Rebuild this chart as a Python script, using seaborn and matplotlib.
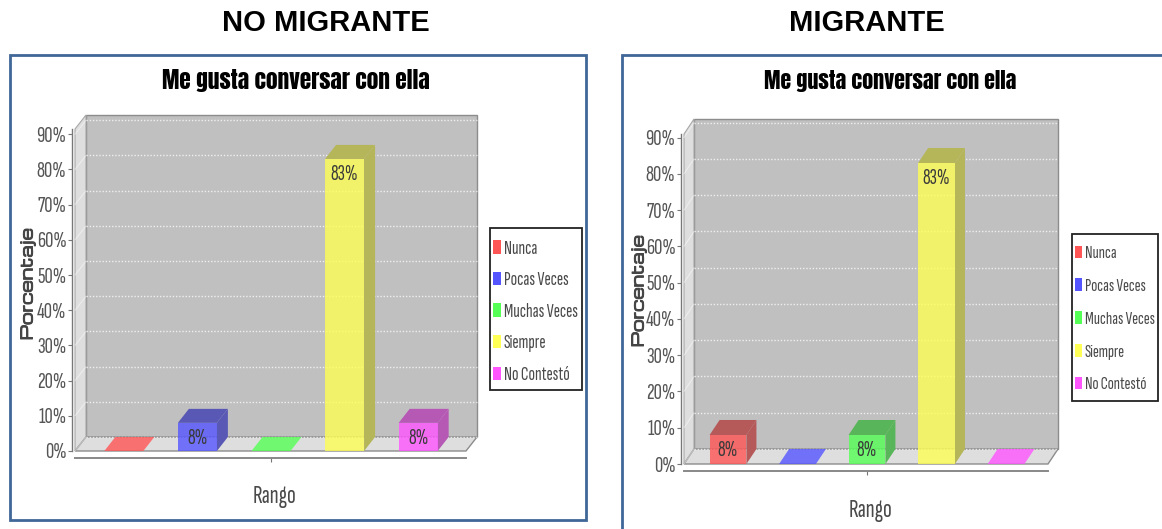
import matplotlib
matplotlib.use("Agg")
import matplotlib.pyplot as plt
import matplotlib.font_manager as fm
import matplotlib.patheffects as pe
from matplotlib.patches import Polygon, Rectangle, Patch
from matplotlib.transforms import IdentityTransform
from matplotlib.colors import to_rgb
import pandas as pd
import seaborn as sns

W, H = 1162, 529

categories = ["Nunca", "Pocas Veces", "Muchas Veces", "Siempre", "No Contestó"]
colors = ["#FF5555", "#5555FF", "#55FF55", "#FFFF55", "#FF55FF"]
no_migrante = [0, 8, 0, 83, 8]
migrante = [8, 0, 8, 83, 0]
yticks = [0, 10, 20, 30, 40, 50, 60, 70, 80, 90]

sns.set_theme(style="white")
names = {f.name for f in fm.fontManager.ttflist}
# the reference uses squeezed letters, fall back to smaller type if the fonts are missing
NARROW = "Sofia Sans Extra Condensed"
k = 1.0 if NARROW in names else 0.6
plt.rcParams["font.family"] = [NARROW, "Liberation Sans", "DejaVu Sans"]
TITLE_FONT = ["Anton", "Liberation Sans", "DejaVu Sans"]
WIDE_FONT = ["Michroma", "DejaVu Sans"]

fig = plt.figure(figsize=(W / 100, H / 100), dpi=100, facecolor="white")
px = IdentityTransform()


def shade(c):
    # darker, greyer tone for the top and the side of a bar
    return tuple(0.17 + 0.54 * v for v in to_rgb(c))


def chart(values, x0, x1, y0, ytop, xlim, ymax, dx, dy, title_x, title_size, rango_y, porc_x, porc_y, box, leg_size, rowgap):
    ax = fig.add_axes([x0 / W, (H - y0) / H, (x1 - x0) / W, (y0 - ytop) / H])
    ax.patch.set_visible(False)
    df = pd.DataFrame({"rango": categories, "pct": values})
    sns.barplot(data=df, x="rango", y="pct", hue="rango", palette=colors, order=categories,
                hue_order=categories, saturation=1, width=0.53, dodge=False, legend=False, ax=ax)
    ax.set_xlim(*xlim)
    ax.set_ylim(0, ymax)

    tr = ax.transData
    (l, b) = tr.transform((xlim[0], 0))
    (r, t) = tr.transform((xlim[1], ymax))

    # back wall, side wall, floor
    ax.add_patch(Polygon([(l + dx, b + dy), (r + dx, b + dy), (r + dx, t + dy), (l + dx, t + dy)],
                         fc="#C0C0C0", ec="#8C8C8C", lw=1, transform=px, clip_on=False, zorder=0.5))
    ax.add_patch(Polygon([(l, b), (l + dx, b + dy), (l + dx, t + dy), (l, t)],
                         fc="#DEDEDE", ec="#A8A8A8", lw=0.8, transform=px, clip_on=False, zorder=0.6))
    ax.add_patch(Polygon([(l, b), (r, b), (r + dx, b + dy), (l + dx, b + dy)],
                         fc="#DEDEDE", ec="#8C8C8C", lw=1, transform=px, clip_on=False, zorder=0.6))

    # dotted grid on the back wall and faint lines on the side wall
    for v in yticks:
        yy = tr.transform((0, v))[1]
        ax.plot([l + dx, r + dx], [yy + dy, yy + dy], color="white", lw=1, ls=(0, (1, 1.3)), alpha=0.75,
                transform=px, clip_on=False, zorder=0.8)
        ax.plot([l, l + dx], [yy, yy + dy], color="white", lw=0.8, alpha=0.45,
                transform=px, clip_on=False, zorder=0.8)

    # bars with fake depth
    front = [p for p in ax.patches if isinstance(p, Rectangle)]
    for bar in front:
        bar.set_alpha(0.8)
        bar.set_zorder(3)
        bar.set_edgecolor("none")
        col = bar.get_facecolor()[:3]
        x, w, h = bar.get_x(), bar.get_width(), bar.get_height()
        (xa, ya) = tr.transform((x, 0))
        (xb, yb) = tr.transform((x + w, h))
        top = [(xa, yb), (xb, yb), (xb + dx, yb + dy), (xa + dx, yb + dy)]
        if h > 0:
            side = [(xb, ya), (xb + dx, ya + dy), (xb + dx, yb + dy), (xb, yb)]
            ax.add_patch(Polygon(side, fc=shade(col), ec="none", transform=px, clip_on=False, zorder=2))
            ax.add_patch(Polygon(top, fc=shade(col), ec="none", transform=px, clip_on=False, zorder=2))
        else:
            ax.add_patch(Polygon(top, fc=col, ec="none", alpha=0.8, transform=px, clip_on=False, zorder=2))

    for cont in ax.containers:
        labs = [f"{int(b.get_height())}%" if b.get_height() > 0 else "" for b in cont]
        ax.bar_label(cont, labels=labs, padding=-18, fontsize=15.5 * k, color="#3A3A3A", zorder=5)

    # axes
    sns.despine(ax=ax, top=True, right=True)
    ax.spines["left"].set_position(("outward", 2.2))
    ax.spines["left"].set_color("#777777")
    ax.spines["left"].set_linewidth(1)
    ax.spines["left"].set_bounds(0, ymax)
    ax.spines["bottom"].set_position(("outward", 5))
    ax.spines["bottom"].set_color("#888888")
    ax.spines["bottom"].set_linewidth(1.4)
    ax.set_yticks(yticks)
    ax.set_yticklabels([f"{v}%" for v in yticks])
    ax.tick_params(axis="y", left=True, length=3, width=0.8, color="#777777", labelcolor="#555555",
                   labelsize=16.5 * k, pad=1)
    ax.set_xticks([2])
    ax.set_xticklabels([""])
    ax.tick_params(axis="x", bottom=True, length=3, width=0.8, color="#777777")
    ax.set_xlabel("")
    ax.set_ylabel("")
    ax.grid(False)

    # title and axis names, placed in pixels
    fig.text(title_x / W, (H - 81) / H, "Me gusta conversar con ella", ha="center", va="center",
             fontsize=title_size, color="black", family=TITLE_FONT)
    fig.text(tr.transform((2, 0))[0] / W + 0.003, (H - rango_y) / H, "Rango", ha="center", va="center",
             fontsize=18.5 * k, color="#4A4A4A")
    porc = fig.text(porc_x / W, (H - porc_y) / H, "Porcentaje", ha="center", va="center", rotation=90,
                    fontsize=11.5, fontweight="bold", color="#444444", family=WIDE_FONT)
    porc.set_path_effects([pe.withStroke(linewidth=0.7, foreground="#444444")])

    # legend box is drawn apart so it can have the exact size
    fig.add_artist(Rectangle((box[0], H - box[3]), box[2] - box[0], box[3] - box[1], fc="white", ec="#222222",
                             lw=1.3, transform=px, zorder=-1))
    handles = [Patch(fc=c, ec="none") for c in colors]
    ax.legend(handles, categories, loc="upper left", bbox_to_anchor=(box[0] + 3, H - box[1] - 11.5), bbox_transform=px,
              borderaxespad=0, borderpad=0, frameon=False, fontsize=leg_size * k, labelcolor="#4A4A4A",
              handlelength=0.4, handleheight=0.7, handletextpad=0.15, labelspacing=rowgap, ncol=1)


# panel frames
FRAME = "#3F6797"
fig.add_artist(Rectangle((9.5, H - 520), 576, 465, fc="white", ec=FRAME, lw=2, transform=px, zorder=-5))
fig.add_artist(Rectangle((622, H - 545), 560, 490, fc="white", ec=FRAME, lw=2, transform=px, zorder=-5))

# page headings
fig.text(326 / W, (H - 23) / H, "NO MIGRANTE", ha="center", va="center", fontsize=21, fontweight="bold",
         color="black", family="Liberation Sans")
fig.text(867 / W, (H - 23) / H, "MIGRANTE", ha="center", va="center", fontsize=21, fontweight="bold",
         color="black", family="Liberation Sans")

chart(no_migrante, 75, 466, 451, 129, (-0.663, 4.65), 91.5, 11, 14,
      296, 16.8, 496, 28, 284, (490, 228, 582, 390), 13.8, 0.71)
chart(migrante, 684, 1048, 464, 134, (-0.633, 4.604), 91, 10, 15,
      890, 15.8, 510, 639, 291, (1072, 234, 1158, 401), 13, 0.95)

fig.savefig("out.png", dpi=100, facecolor="white")
